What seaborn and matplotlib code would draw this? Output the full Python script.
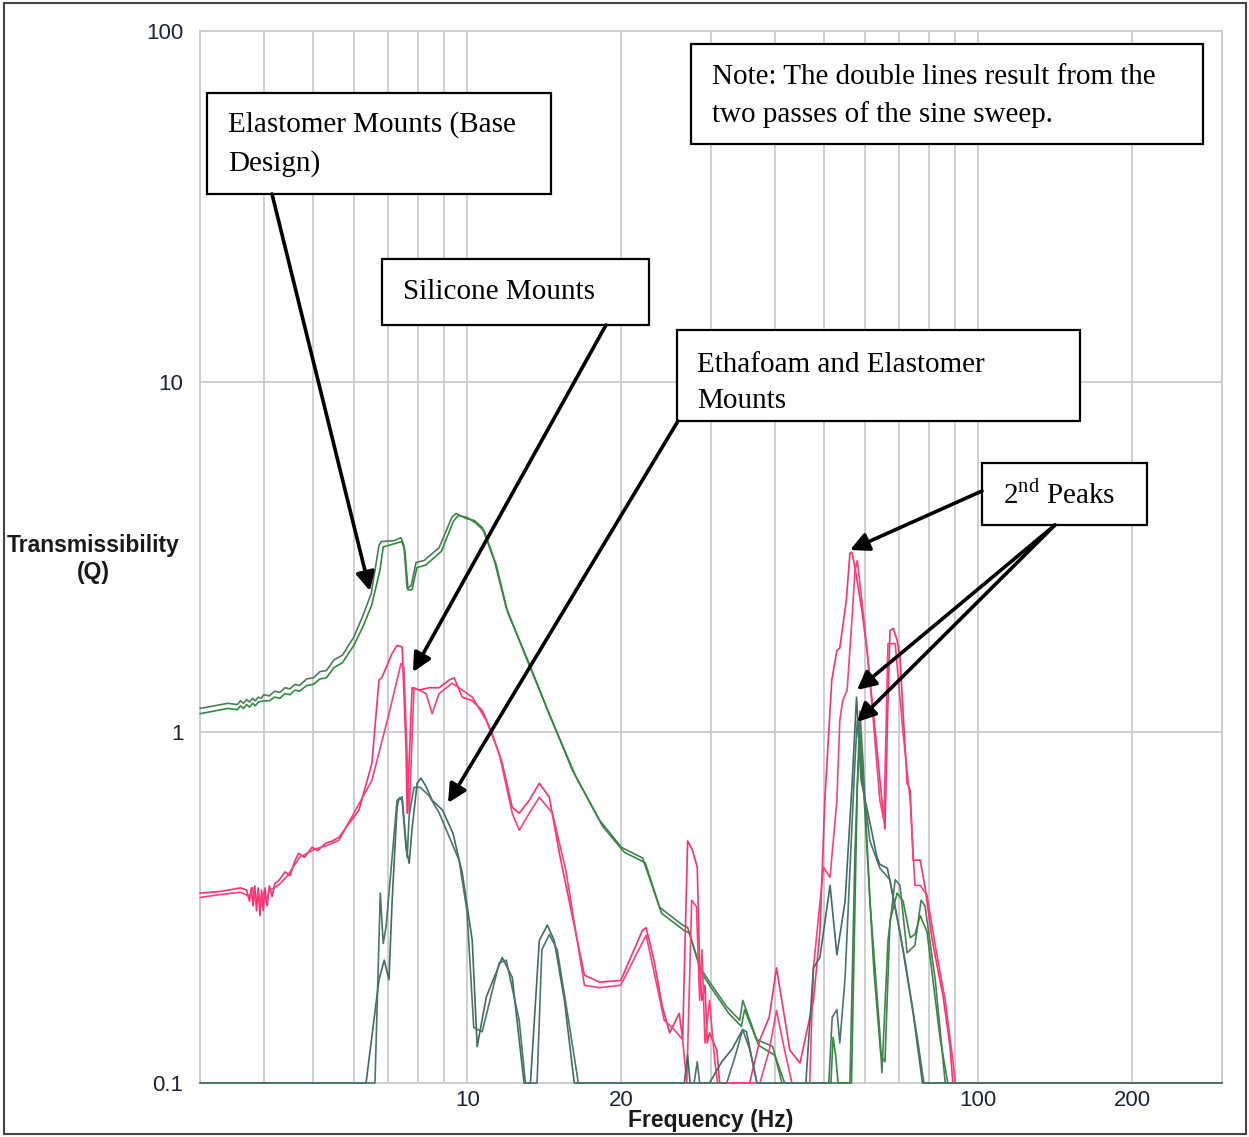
import numpy as np
import pandas as pd
import matplotlib
matplotlib.use("Agg")
import matplotlib.pyplot as plt
from matplotlib.patches import Rectangle, FancyArrowPatch
from matplotlib.ticker import FixedLocator, NullFormatter
import seaborn as sns

# ---------------- transmissibility data (two sweep passes per mount) ----------------
elastomer_a_hz = [3.0, 3.2, 3.4, 3.55, 3.6, 3.65, 3.7, 3.75, 3.8, 3.85, 3.9, 3.95, 4.0, 4.1, 4.2, 4.3,
                  4.4, 4.5, 4.6, 4.7, 4.85, 5.0, 5.15, 5.3, 5.49, 5.7, 6.0, 6.25, 6.49, 6.72, 6.79,
                  7.19, 7.42, 7.52, 7.63, 7.77, 7.94, 8.23, 8.81, 9.33, 9.51, 9.95, 10.32, 10.7,
                  11.3, 11.92, 13.05, 14.29, 16.07, 18.15, 20.04, 22.04, 23.79, 26.4, 27.0, 28.51,
                  29.82, 32.21, 34.15, 34.62, 36.88, 39.63, 41.28, 56.1, 57.4, 58.7, 59.5, 61.4,
                  64.2, 64.8, 66.6, 68.8, 70.3, 72.6, 75.2, 77.3, 78.7, 82.4, 86.2, 300.0]
elastomer_a_q = [1.17, 1.19, 1.21, 1.20, 1.23, 1.21, 1.24, 1.22, 1.25, 1.23, 1.26, 1.25, 1.28, 1.27,
                 1.31, 1.30, 1.34, 1.33, 1.37, 1.36, 1.42, 1.43, 1.49, 1.50, 1.61, 1.66, 1.87, 2.15,
                 2.49, 3.41, 3.50, 3.52, 3.59, 3.41, 2.57, 2.62, 3.05, 3.09, 3.36, 4.10, 4.21, 4.07,
                 4.02, 3.84, 3.09, 2.27, 1.63, 1.18, 0.779, 0.562, 0.470, 0.438, 0.317, 0.282,
                 0.278, 0.214, 0.194, 0.165, 0.151, 0.172, 0.133, 0.127, 0.1, 0.1, 0.46, 1.15,
                 0.83, 0.33, 0.139, 0.107, 0.255, 0.38, 0.366, 0.235, 0.247, 0.332, 0.32, 0.197,
                 0.1, 0.1]

elastomer_b_hz = [3.0, 3.2, 3.4, 3.55, 3.6, 3.65, 3.7, 3.75, 3.8, 3.85, 3.9, 4.0, 4.1, 4.2, 4.3, 4.4,
                  4.5, 4.6, 4.7, 4.85, 5.0, 5.15, 5.3, 5.49, 5.7, 6.0, 6.25, 6.5, 6.75, 6.85, 7.2,
                  7.45, 7.55, 7.66, 7.8, 7.97, 8.3, 8.9, 9.4, 9.6, 10.0, 10.4, 10.8, 11.4, 12.0,
                  13.2, 14.5, 16.3, 18.4, 20.3, 22.3, 24.0, 26.6, 27.2, 28.8, 30.1, 32.5, 34.4,
                  34.9, 37.2, 40.0, 41.8, 51.5, 52.0, 52.6, 53.2, 56.5, 58.0, 58.7, 60.0, 62.5,
                  64.5, 65.7, 67.2, 69.4, 71.3, 73.6, 75.2, 77.0, 79.4, 84.3, 87.2, 300.0]
elastomer_b_q = [1.13, 1.15, 1.17, 1.16, 1.19, 1.17, 1.20, 1.18, 1.21, 1.19, 1.22, 1.23, 1.23, 1.26,
                 1.25, 1.29, 1.28, 1.32, 1.31, 1.36, 1.37, 1.42, 1.43, 1.53, 1.58, 1.77, 2.00, 2.30,
                 2.90, 3.38, 3.45, 3.50, 3.30, 2.55, 2.55, 2.95, 3.00, 3.28, 4.00, 4.15, 4.10,
                 3.95, 3.75, 3.00, 2.20, 1.58, 1.12, 0.75, 0.54, 0.455, 0.425, 0.305, 0.272,
                 0.268, 0.205, 0.186, 0.158, 0.145, 0.162, 0.128, 0.12, 0.1, 0.1, 0.135, 0.12,
                 0.1, 0.1, 0.70, 1.00, 0.60, 0.21, 0.12, 0.115, 0.29, 0.348, 0.33, 0.26, 0.265,
                 0.30, 0.27, 0.133, 0.1, 0.1]

silicone_a_hz = [3.0, 3.3, 3.6, 3.7, 3.75, 3.78, 3.81, 3.84, 3.87, 3.9, 3.93, 3.96, 3.99, 4.02, 4.06,
                 4.1, 4.15, 4.2, 4.28, 4.4, 4.5, 4.6, 4.68, 4.8, 4.97, 5.1, 5.29, 5.45, 5.61, 6.14,
                 6.51, 6.72, 6.81, 7.13, 7.29, 7.46, 7.59, 7.63, 7.80, 8.05, 8.42, 8.81, 9.22,
                 9.43, 9.78, 10.23, 10.70, 11.19, 11.71, 12.25, 12.64, 13.23, 13.84, 14.48, 15.15,
                 16.96, 18.15, 19.97, 22.04, 22.4, 23.2, 24.1, 24.9, 26.0, 26.4, 27.0, 27.6, 28.2,
                 28.5, 28.8, 29.2, 29.5, 29.8, 30.8, 31.2, 35.7, 37.4, 39.0, 40.3, 42.8, 44.8,
                 47.6, 49.0, 50.1, 51.7, 52.9, 53.6, 55.2, 56.1, 56.6, 57.4, 59.2, 60.6, 62.0,
                 63.4, 64.8, 65.7, 66.6, 67.2, 68.2, 69.4, 70.3, 72.6, 73.6, 74.6, 77.0, 78.7,
                 81.3, 85.4, 88.1, 89.2, 300.0]
silicone_a_q = [0.348, 0.352, 0.36, 0.355, 0.33, 0.36, 0.32, 0.365, 0.31, 0.36, 0.30, 0.355, 0.31,
                0.36, 0.32, 0.365, 0.34, 0.37, 0.378, 0.40, 0.39, 0.43, 0.452, 0.44, 0.47, 0.46,
                0.483, 0.49, 0.502, 0.60, 0.816, 1.41, 1.435, 1.68, 1.77, 1.75, 0.906, 0.588,
                1.34, 1.32, 1.34, 1.34, 1.41, 1.43, 1.26, 1.23, 1.155, 0.993, 0.816, 0.611, 0.588,
                0.64, 0.716, 0.653, 0.452, 0.203, 0.194, 0.196, 0.273, 0.277, 0.224, 0.165, 0.139,
                0.158, 0.133, 0.49, 0.461, 0.412, 0.214, 0.172, 0.19, 0.13, 0.139, 0.124, 0.1,
                0.1, 0.133, 0.154, 0.213, 0.124, 0.114, 0.172, 0.268, 0.64, 1.41, 1.71, 1.74,
                2.38, 3.24, 3.26, 2.95, 2.23, 1.71, 1.23, 0.889, 0.64, 0.53, 1.23, 1.95, 1.98,
                1.83, 1.64, 0.716, 0.684, 0.432, 0.432, 0.362, 0.255, 0.176, 0.127, 0.1, 0.1]

silicone_b_hz = [3.0, 3.3, 3.6, 3.75, 3.8, 3.85, 3.9, 3.95, 4.0, 4.05, 4.1, 4.2, 4.3, 4.45, 4.55, 4.7,
                 4.9, 5.05, 5.3, 5.61, 6.51, 7.03, 7.42, 7.52, 7.70, 7.87, 8.31, 8.54, 8.81, 9.34,
                 9.64, 10.23, 10.9, 11.55, 12.25, 12.64, 13.23, 13.84, 14.68, 15.6, 16.96, 18.15,
                 19.97, 22.4, 24.3, 25.4, 26.4, 26.9, 27.5, 28.1, 28.5, 28.8, 29.2, 29.8, 30.5,
                 30.9, 37.4, 39.0, 40.3, 41.8, 43.2, 46.8, 47.6, 49.8, 51.3, 52.9, 53.6, 54.3,
                 55.4, 56.6, 57.4, 58.0, 59.2, 60.6, 62.0, 64.2, 65.4, 66.6, 68.8, 71.3, 73.6,
                 75.2, 77.0, 79.4, 82.4, 86.2, 89.2, 90.2, 300.0]
silicone_b_q = [0.338, 0.345, 0.35, 0.34, 0.36, 0.33, 0.35, 0.32, 0.35, 0.33, 0.355, 0.36, 0.37,
                0.39, 0.41, 0.44, 0.455, 0.465, 0.475, 0.492, 0.73, 1.13, 1.57, 1.53, 0.588, 1.34,
                1.29, 1.13, 1.29, 1.38, 1.34, 1.26, 1.08, 0.871, 0.588, 0.526, 0.588, 0.653,
                0.588, 0.404, 0.19, 0.187, 0.19, 0.264, 0.151, 0.142, 0.133, 0.1, 0.332, 0.318,
                0.172, 0.24, 0.13, 0.172, 0.116, 0.1, 0.1, 0.124, 0.161, 0.124, 0.1, 0.1, 0.213,
                0.412, 0.386, 0.64, 1.08, 1.23, 1.32, 2.08, 2.89, 3.09, 2.38, 1.71, 1.19, 0.64,
                0.56, 1.79, 1.79, 0.993, 0.64, 0.366, 0.366, 0.343, 0.247, 0.172, 0.116, 0.1, 0.1]

ethafoam_a_hz = [3.0, 6.34, 6.72, 6.88, 7.03, 7.13, 7.29, 7.36, 7.46, 7.59, 7.70, 7.80, 7.98, 8.12,
                 8.31, 8.54, 8.95, 9.38, 9.78, 10.23, 10.46, 10.9, 11.71, 12.25, 12.92, 13.3,
                 13.84, 14.35, 14.8, 15.5, 16.2, 26.6, 27.0, 27.3, 29.8, 31.5, 33.0, 34.6, 35.2,
                 36.9, 46.0, 47.6, 49.0, 51.3, 52.9, 54.9, 56.7, 57.8, 59.0, 63.4, 64.2, 66.4,
                 70.3, 74.6, 77.8, 300.0]
ethafoam_a_q = [0.1, 0.1, 0.197, 0.224, 0.197, 0.33, 0.61, 0.65, 0.64, 0.47, 0.423, 0.53, 0.716,
                0.74, 0.70, 0.64, 0.60, 0.515, 0.397, 0.255, 0.127, 0.176, 0.228, 0.20, 0.1, 0.1,
                0.255, 0.282, 0.255, 0.172, 0.1, 0.1, 0.12, 0.1, 0.1, 0.115, 0.125, 0.142, 0.14,
                0.1, 0.1, 0.213, 0.228, 0.366, 0.232, 0.33, 0.73, 1.26, 0.73, 0.44, 0.42, 0.41,
                0.27, 0.158, 0.1, 0.1]

ethafoam_b_hz = [3.0, 6.6, 6.76, 6.85, 6.94, 7.29, 7.46, 7.63, 7.70, 7.87, 8.09, 8.42, 8.81, 9.64,
                 9.99, 10.3, 10.7, 11.55, 11.92, 12.64, 13.0, 13.7, 14.0, 14.48, 15.0, 15.8, 16.5,
                 27.8, 28.2, 28.5, 32.2, 33.5, 34.6, 35.7, 36.9, 51.0, 51.8, 52.9, 53.6, 54.9,
                 56.1, 57.4, 58.0, 59.2, 61.4, 64.2, 67.2, 71.9, 76.1, 78.3, 300.0]
ethafoam_b_q = [0.1, 0.1, 0.348, 0.25, 0.28, 0.64, 0.655, 0.44, 0.58, 0.697, 0.697, 0.66, 0.59,
                0.432, 0.31, 0.144, 0.14, 0.22, 0.224, 0.151, 0.1, 0.1, 0.24, 0.265, 0.24, 0.15,
                0.1, 0.1, 0.115, 0.1, 0.1, 0.12, 0.142, 0.125, 0.1, 0.1, 0.154, 0.162, 0.13, 0.2,
                0.404, 0.83, 1.08, 0.75, 0.49, 0.41, 0.38, 0.224, 0.133, 0.1, 0.1]

y_ticks = [0.1, 1, 10, 100]
y_tick_labels = ["0.1", "1", "10", "100"]
x_ticks = [10, 20, 100, 200]
x_tick_labels = ["10", "20", "100", "200"]

# ---------------- figure ----------------
W, H = 1249, 1137
sns.set_theme(style="white")
plt.rcParams["font.family"] = ["Liberation Sans", "DejaVu Sans"]

fig = plt.figure(figsize=(W / 100, H / 100), dpi=100)
fig.patch.set_facecolor("white")


def fx(x):
    return x / W


def fy(y):
    return 1 - y / H


ax = fig.add_axes([fx(200), fy(1083), fx(1222) - fx(200), fy(31) - fy(1083)])

series = [
    ("Elastomer A", elastomer_a_hz, elastomer_a_q, "#4f7a5c"),
    ("Elastomer B", elastomer_b_hz, elastomer_b_q, "#2f8c3a"),
    ("Silicone A", silicone_a_hz, silicone_a_q, "#ff2e6c"),
    ("Silicone B", silicone_b_hz, silicone_b_q, "#ff3f78"),
    ("Ethafoam A", ethafoam_a_hz, ethafoam_a_q, "#3e6b62"),
    ("Ethafoam B", ethafoam_b_hz, ethafoam_b_q, "#4a756c"),
]
for name, hz, q, col in series:
    df = pd.DataFrame({"Frequency (Hz)": hz, "Q": q})
    sns.lineplot(data=df, x="Frequency (Hz)", y="Q", ax=ax, color=col, lw=1.2,
                 estimator=None, sort=False, clip_on=False, zorder=3)

ax.set_xscale("log")
ax.set_yscale("log")
ax.set_xlim(3, 300)
ax.set_ylim(0.1, 100)

# x axis: labelled ticks at 10, 20, 100, 200, gridlines at every 1-9 multiple
ax.xaxis.set_major_locator(FixedLocator(x_ticks))
ax.set_xticklabels(x_tick_labels)
x_minor = [f * d for d in (1, 10, 100) for f in range(1, 10) if 3 <= f * d <= 300 and f * d not in x_ticks]
ax.xaxis.set_minor_locator(FixedLocator(x_minor))
ax.xaxis.set_minor_formatter(NullFormatter())
ax.tick_params(axis="x", which="both", length=0, pad=5, labelsize=16, labelcolor="#1c2438")

# y axis: decade labels, short inward minor ticks
ax.yaxis.set_major_locator(FixedLocator(y_ticks))
ax.set_yticklabels(y_tick_labels)
y_minor = [f * d for d in (0.1, 1, 10) for f in range(2, 10)]
ax.yaxis.set_minor_locator(FixedLocator(y_minor))
ax.yaxis.set_minor_formatter(NullFormatter())
ax.tick_params(axis="y", which="major", length=0, pad=12, labelsize=16, labelcolor="#1c2438")
ax.tick_params(axis="y", which="minor", direction="in", length=12, width=1.2, color="#c4c4c4")

ax.grid(axis="x", which="both", color="#cccccc", lw=1.3)
ax.grid(axis="y", which="major", color="#cccccc", lw=1.3)
for s in ax.spines.values():
    s.set_color("#cccccc")
    s.set_linewidth(1.3)

ax.set_xlabel("")
ax.set_ylabel("")
fig.text(fx(711), fy(1121), "Frequency (Hz)", ha="center", va="center",
         fontsize=16.5, fontweight="bold", color="#1a1a1a")
fig.text(fx(93), fy(559), "Transmissibility\n(Q)", ha="center", va="center",
         fontsize=16.5, fontweight="bold", color="#1a1a1a", linespacing=1.2)

# ---------------- callout boxes ----------------
serif = ["Liberation Serif", "DejaVu Serif"]


def box(x0, y0, x1, y1, text, tx, ty):
    fig.patches.append(Rectangle((fx(x0), fy(y1)), fx(x1) - fx(x0), fy(y0) - fy(y1),
                                 transform=fig.transFigure, facecolor="white",
                                 edgecolor="black", lw=1.6, zorder=5))
    fig.text(fx(tx), fy(ty), text, ha="left", va="center", fontsize=21, family=serif,
             color="black", linespacing=1.55, zorder=6)


box(207, 93, 551, 194, "Elastomer Mounts (Base\nDesign)", 228, 144)
box(382, 259, 649, 325, "Silicone Mounts", 403, 292)
box(677, 330, 1080, 421, "Ethafoam and Elastomer\nMounts", 697, 383)
box(691, 44, 1203, 144, "Note: The double lines result from the\ntwo passes of the sine sweep.", 712, 96)
box(982, 463, 1147, 525, "2$^{\\mathregular{nd}}$ Peaks", 1003, 495)


def arrow(x0, y0, x1, y1):
    fig.patches.append(FancyArrowPatch((fx(x0), fy(y0)), (fx(x1), fy(y1)),
                                       transform=fig.transFigure, arrowstyle="-|>",
                                       mutation_scale=28, lw=2.6, color="black", zorder=7,
                                       shrinkA=0, shrinkB=0))


arrow(272, 194, 370, 591)
arrow(606, 325, 413, 672)
arrow(678, 421, 448, 803)
arrow(982, 491, 850, 550)
arrow(1055, 525, 857, 690)
arrow(1055, 525, 857, 722)

# outer frame
fig.patches.append(Rectangle((fx(4), fy(1134)), fx(1246) - fx(4), fy(3) - fy(1134),
                             transform=fig.transFigure, fill=False, edgecolor="#444444",
                             lw=1.5, zorder=8))

fig.savefig("out.png", dpi=100, facecolor="white")
